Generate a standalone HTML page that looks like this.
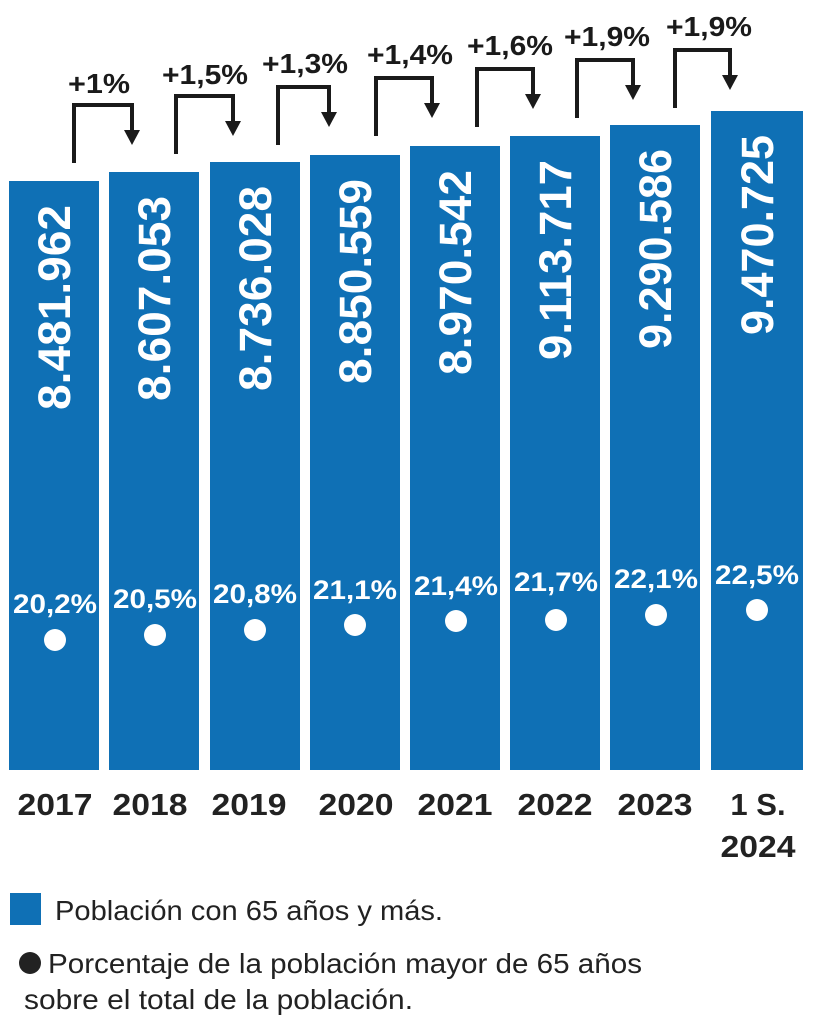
<!DOCTYPE html>
<html><head><meta charset="utf-8"><style>
body{margin:0;background:#fff;}
svg{display:block;font-family:"Liberation Sans",sans-serif;}
</style></head><body>
<svg width="828" height="1024" viewBox="0 0 828 1024" xmlns="http://www.w3.org/2000/svg">
<g fill="#0f70b5">
<rect x="9" y="181" width="90" height="589"/>
<rect x="109" y="172" width="90" height="598"/>
<rect x="210" y="162" width="90" height="608"/>
<rect x="310" y="155" width="90" height="615"/>
<rect x="410" y="146" width="90" height="624"/>
<rect x="510" y="136" width="90" height="634"/>
<rect x="610" y="125" width="90" height="645"/>
<rect x="711" y="111" width="92" height="659"/>
</g>
<g fill="#fff" font-weight="bold" font-size="45" text-anchor="end">
<text transform="translate(70,205) rotate(-90)" textLength="205" lengthAdjust="spacingAndGlyphs">8.481.962</text>
<text transform="translate(170,196) rotate(-90)" textLength="205" lengthAdjust="spacingAndGlyphs">8.607.053</text>
<text transform="translate(271,186) rotate(-90)" textLength="205" lengthAdjust="spacingAndGlyphs">8.736.028</text>
<text transform="translate(371,179) rotate(-90)" textLength="205" lengthAdjust="spacingAndGlyphs">8.850.559</text>
<text transform="translate(471,170) rotate(-90)" textLength="205" lengthAdjust="spacingAndGlyphs">8.970.542</text>
<text transform="translate(571,160) rotate(-90)" textLength="200" lengthAdjust="spacingAndGlyphs">9.113.717</text>
<text transform="translate(671,149) rotate(-90)" textLength="200" lengthAdjust="spacingAndGlyphs">9.290.586</text>
<text transform="translate(773,135) rotate(-90)" textLength="200" lengthAdjust="spacingAndGlyphs">9.470.725</text>
</g>
<g fill="#fff" font-weight="bold" font-size="27" text-anchor="middle">
<text x="55" y="613" textLength="84" lengthAdjust="spacingAndGlyphs">20,2%</text><circle cx="55" cy="640" r="11"/>
<text x="155" y="608" textLength="84" lengthAdjust="spacingAndGlyphs">20,5%</text><circle cx="155" cy="635" r="11"/>
<text x="255" y="603" textLength="84" lengthAdjust="spacingAndGlyphs">20,8%</text><circle cx="255" cy="630" r="11"/>
<text x="355" y="599" textLength="84" lengthAdjust="spacingAndGlyphs">21,1%</text><circle cx="355" cy="625" r="11"/>
<text x="456" y="595" textLength="84" lengthAdjust="spacingAndGlyphs">21,4%</text><circle cx="456" cy="621" r="11"/>
<text x="556" y="591" textLength="84" lengthAdjust="spacingAndGlyphs">21,7%</text><circle cx="556" cy="620" r="11"/>
<text x="656" y="588" textLength="84" lengthAdjust="spacingAndGlyphs">22,1%</text><circle cx="656" cy="615" r="11"/>
<text x="757" y="584" textLength="84" lengthAdjust="spacingAndGlyphs">22,5%</text><circle cx="757" cy="610" r="11"/>
</g>
<g fill="none" stroke="#1a1a1a" stroke-width="4">
<path d="M74 163V105H132V132"/>
<path d="M176 154V96H233V123"/>
<path d="M278 145V87H329V114"/>
<path d="M376 136V78H432V105"/>
<path d="M477 127V69H533V96"/>
<path d="M577 118V60H633V87"/>
<path d="M675 108V50H730V77"/>
</g>
<g fill="#1a1a1a">
<path d="M124 130H140L132 145Z"/>
<path d="M225 121H241L233 136Z"/>
<path d="M321 112H337L329 127Z"/>
<path d="M424 103H440L432 118Z"/>
<path d="M525 94H541L533 109Z"/>
<path d="M625 85H641L633 100Z"/>
<path d="M722 75H738L730 90Z"/>
</g>
<g fill="#1a1a1a" font-weight="bold" font-size="28" text-anchor="middle">
<text x="99" y="93" textLength="62" lengthAdjust="spacingAndGlyphs">+1%</text>
<text x="205" y="84" textLength="86" lengthAdjust="spacingAndGlyphs">+1,5%</text>
<text x="305" y="73" textLength="86" lengthAdjust="spacingAndGlyphs">+1,3%</text>
<text x="410" y="64" textLength="86" lengthAdjust="spacingAndGlyphs">+1,4%</text>
<text x="510" y="55" textLength="86" lengthAdjust="spacingAndGlyphs">+1,6%</text>
<text x="607" y="46" textLength="86" lengthAdjust="spacingAndGlyphs">+1,9%</text>
<text x="709" y="36" textLength="86" lengthAdjust="spacingAndGlyphs">+1,9%</text>
</g>
<g fill="#222" font-weight="bold" font-size="31" text-anchor="middle">
<text x="55" y="815" textLength="75" lengthAdjust="spacingAndGlyphs">2017</text>
<text x="150" y="815" textLength="75" lengthAdjust="spacingAndGlyphs">2018</text>
<text x="249" y="815" textLength="75" lengthAdjust="spacingAndGlyphs">2019</text>
<text x="356" y="815" textLength="75" lengthAdjust="spacingAndGlyphs">2020</text>
<text x="455" y="815" textLength="75" lengthAdjust="spacingAndGlyphs">2021</text>
<text x="555" y="815" textLength="75" lengthAdjust="spacingAndGlyphs">2022</text>
<text x="655" y="815" textLength="75" lengthAdjust="spacingAndGlyphs">2023</text>
<text x="758" y="815">1 S.</text>
<text x="758" y="857" textLength="75" lengthAdjust="spacingAndGlyphs">2024</text>
</g>
<rect x="10" y="893" width="31" height="32" fill="#0f70b5"/>
<g fill="#222" font-size="28">
<text x="55" y="920" textLength="388" lengthAdjust="spacingAndGlyphs">Población con 65 años y más.</text>
<circle cx="30" cy="963" r="11"/>
<text x="48" y="973" textLength="594" lengthAdjust="spacingAndGlyphs">Porcentaje de la población mayor de 65 años</text>
<text x="24" y="1009" textLength="389" lengthAdjust="spacingAndGlyphs">sobre el total de la población.</text>
</g>
</svg>
</body></html>
